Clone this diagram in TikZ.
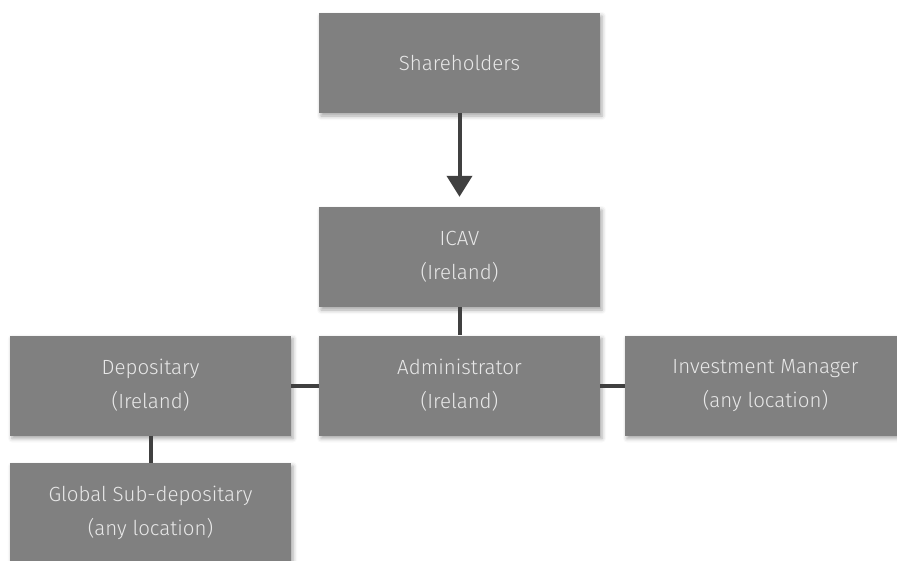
\documentclass[tikz,border=0pt]{standalone}
\usepackage{fontspec}
\setmainfont{Fira Sans Light}
\usetikzlibrary{arrows.meta,shadows.blur}
\definecolor{boxfill}{HTML}{808080}
\definecolor{boxtext}{HTML}{E8E8E8}
\definecolor{linkcol}{HTML}{404040}
\begin{document}
\begin{tikzpicture}[x=1pt,y=-1pt,
  box/.style={fill=boxfill, text=boxtext, minimum width=281pt, minimum height=100pt,
    align=center, inner sep=0pt, font=\fontsize{20.5}{34}\selectfont,
    blur shadow={shadow xshift=2pt, shadow yshift=-3pt, shadow blur radius=4pt, shadow opacity=35}},
  link/.style={draw=linkcol, line width=4pt}]
\useasboundingbox (0,0) rectangle (897,560);
\clip (0,0) rectangle (897,560);
\node[box] (sh) at (459.5,63) {Shareholders};
\node[box] (icav) at (459.5,257) {ICAV\\(Ireland)};
\node[box] (adm) at (459.5,385.5) {Administrator\\(Ireland)};
\node[box] (dep) at (150.5,385.5) {Depositary\\(Ireland)};
\node[box] (inv) at (765.5,385.5) {Investment Manager\\(any location)};
\node[box] (glob) at (150.5,513) {Global Sub-depositary\\(any location)};
\draw[link, -{Triangle[width=25pt,length=21pt]}, shorten >=10pt] (sh) -- (icav);
\draw[link] (icav) -- (adm);
\draw[link] (dep) -- (adm);
\draw[link] (adm) -- (inv);
\draw[link] (dep) -- (glob);
\end{tikzpicture}
\end{document}
